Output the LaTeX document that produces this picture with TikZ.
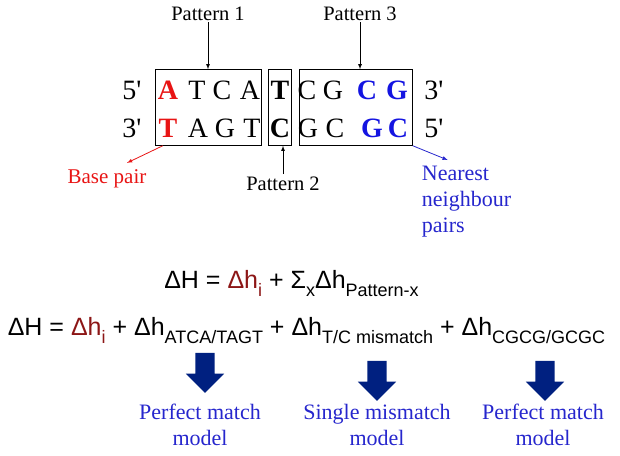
\documentclass[tikz,border=0pt]{standalone}
\usepackage{fontspec}
\setmainfont{Liberation Serif}
\setsansfont{Liberation Sans}
\usepackage{tikz}
\usetikzlibrary{shapes,arrows,positioning,fit,calc}
\usepackage{xcolor}
\definecolor{dnared}{RGB}{232,20,20}
\definecolor{dnablue}{RGB}{20,20,225}
\definecolor{hired}{RGB}{140,22,22}
\definecolor{modelblue}{RGB}{38,38,205}
\definecolor{blocknavy}{RGB}{0,32,128}
\newcommand{\lowsub}[1]{\raisebox{-8.5pt}{\fontsize{18}{18}\selectfont #1}}

\begin{document}
\begin{tikzpicture}[
            x=1pt, y=-1pt,
            pbox/.style={draw, line width=0.9pt, minimum height=75.6pt, inner sep=0pt},
            nb/.style={font=\fontsize{28}{28}\selectfont},
            bb/.style={font=\fontsize{28}{28}\selectfont\bfseries},
            redb/.style={bb, text=dnared},
            blueb/.style={bb, text=dnablue},
            label/.style={font=\fontsize{20.5}{24}\selectfont, inner sep=2pt},
            model/.style={font=\fontsize{22}{26}\selectfont, text=modelblue, align=center},
            eq/.style={font=\sffamily\fontsize{25}{25}\selectfont, anchor=base, inner sep=0pt},
            blk/.style={single arrow, fill=blocknavy, shape border rotate=270, minimum height=40pt,
                        minimum width=38pt, inner sep=9.5pt, single arrow head extend=9.5pt},
            arrow/.style={-latex, line width=0.8pt}
        ]
            \useasboundingbox (0,0) rectangle (620,455);
            % strands
            \foreach \x/\ch/\sty [count=\i] in {168/A/redb, 197/T/nb, 222/C/nb, 250/A/nb, 280/T/bb,
                307/C/nb, 333/G/nb, 367/C/blueb, 397/G/blueb}
                \node[\sty, anchor=base] (top\i) at (\x,99) {\ch};
            \foreach \x/\ch/\sty [count=\i] in {168/T/redb, 198/A/nb, 225/G/nb, 252/T/nb, 280/C/bb,
                308/G/nb, 335/C/nb, 372/G/blueb, 398/C/blueb}
                \node[\sty, anchor=base] (bot\i) at (\x,137) {\ch};
            \node[nb, anchor=base] (topl) at (132,99) {5\textquotesingle};
            \node[nb, anchor=base] (topr) at (434,99) {3\textquotesingle};
            \node[nb, anchor=base] (botl) at (132,137) {3\textquotesingle};
            \node[nb, anchor=base] (botr) at (434,137) {5\textquotesingle};

            \node[pbox, minimum width=106pt] (box1) at (208.7,107.5) {};
            \node[pbox, minimum width=23.4pt] (box2) at (280,107.5) {};
            \node[pbox, minimum width=113pt] (box3) at (355.8,107.5) {};

            \node[label, anchor=base] (pat1) at (208,20) {Pattern 1};
            \node[label, anchor=base] (pat3) at (360,20) {Pattern 3};
            \node[label, anchor=base] (pat2) at (283,190) {Pattern 2};
            \node[label, anchor=base, text=dnared, font=\fontsize{21}{24}\selectfont] (basepair) at (107,183) {Base pair};
            \node[model, align=left, anchor=north west, inner sep=2pt] (nearest) at (419.7,164) {Nearest\\neighbour\\pairs};

            \draw[arrow] (pat1) -- (pat1 |- box1.north);
            \draw[arrow] (pat3) -- (pat3 |- box3.north);
            \draw[arrow] (pat2) -- (pat2 |- box2.south);
            \draw[arrow, dnared] ([xshift=7.5pt]box1.south west) -- ([xshift=20pt,yshift=4pt]basepair.north);
            \draw[arrow, modelblue] (box3.south east) -- ([xshift=28pt,yshift=4pt]nearest.north west);

            % energy terms
            \node[eq] (eqsum) at (291.5,288) {ΔH = \textcolor{hired}{Δh\lowsub{i}} + Σ\lowsub{x}Δh\lowsub{Pattern-x}};
            \node[eq] (eqfull) at (306.5,335) {ΔH = \textcolor{hired}{Δh\lowsub{i}} + Δh\lowsub{ATCA/TAGT} + Δh\lowsub{T/C mismatch} + Δh\lowsub{CGCG/GCGC}};

            \node[blk] (blk1) at (205,368) {};
            \node[blk] (blk2) at (377,376) {};
            \node[blk] (blk3) at (545,376) {};

            \node[model] (model1) at (200,425) {Perfect match\\model};
            \node[model] (model2) at (377,425) {Single mismatch\\model};
            \node[model] (model3) at (543,425) {Perfect match\\model};
        \end{tikzpicture}
\end{document}
